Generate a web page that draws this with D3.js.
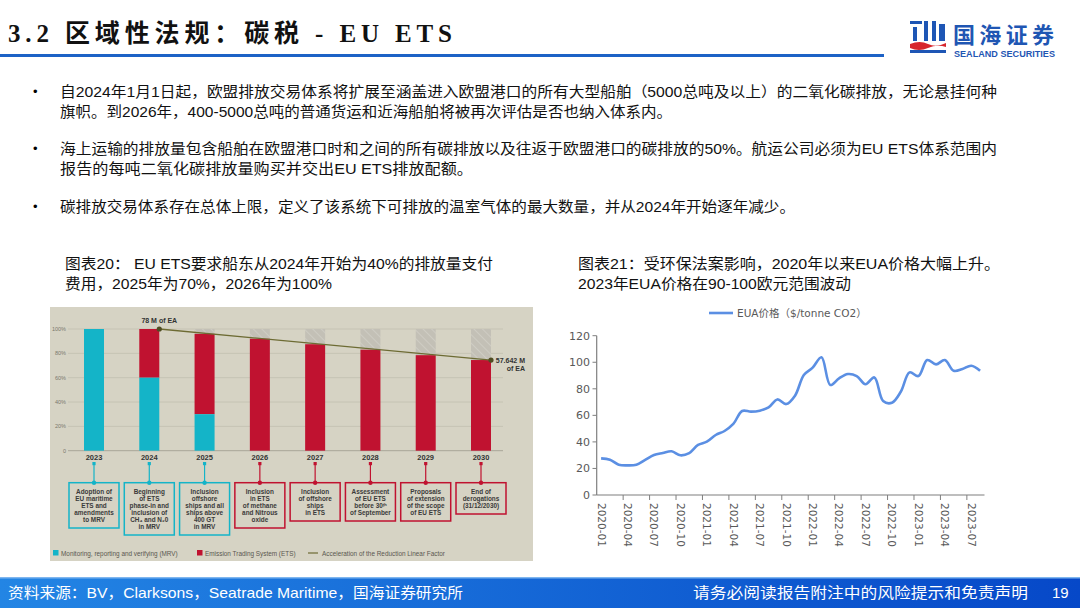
<!DOCTYPE html>
<html>
<head>
<meta charset="utf-8">
<script src="https://cdn.jsdelivr.net/npm/d3@7"></script>
<style>
  body { margin: 0; background: #fff; }
  svg { display: block; }
</style>
</head>
<body>
<svg id="slide" width="1080" height="608"></svg>
<script>
// ---- data ----
const bullets = [
  ["自2024年1月1日起，欧盟排放交易体系将扩展至涵盖进入欧盟港口的所有大型船舶（5000总吨及以上）的二氧化碳排放，无论悬挂何种",
   "旗帜。到2026年，400-5000总吨的普通货运和近海船舶将被再次评估是否也纳入体系内。"],
  ["海上运输的排放量包含船舶在欧盟港口时和之间的所有碳排放以及往返于欧盟港口的碳排放的50%。航运公司必须为EU ETS体系范围内",
   "报告的每吨二氧化碳排放量购买并交出EU ETS排放配额。"],
  ["碳排放交易体系存在总体上限，定义了该系统下可排放的温室气体的最大数量，并从2024年开始逐年减少。"]
]
const leftTitle = ["图表20： EU ETS要求船东从2024年开始为40%的排放量支付", "费用，2025年为70%，2026年为100%"]
const rightTitle = ["图表21：受环保法案影响，2020年以来EUA价格大幅上升。", "2023年EUA价格在90-100欧元范围波动"]

const years = [2023, 2024, 2025, 2026, 2027, 2028, 2029, 2030]
const mrvShare = [100, 60, 30, 0, 0, 0, 0, 0]
const etsShare = [0, 40, 66, 92, 87.5, 83, 78.5, 74.5]
const pctTicks = [0, 20, 40, 60, 80, 100]
const capLine = [[2024, 100, "78 M of EA"], [2030, 74.5, "57.642 M|of EA"]]
const boxKind = ["mrv", "mrv", "mrv", "ets", "ets", "ets", "ets", "ets"]
const boxText = [
  ["Adoption of", "EU maritime", "ETS and", "amendments", "to MRV"],
  ["Beginning", "of ETS", "phase-in and", "inclusion of", "CH₄ and N₂0", "in MRV"],
  ["Inclusion", "offshore", "ships and all", "ships above", "400 GT", "in MRV"],
  ["Inclusion", "in ETS", "of methane", "and Nitrous", "oxide"],
  ["Inclusion", "of offshore", "ships", "in ETS"],
  ["Assessment", "of EU ETS", "before 30ᵗʰ", "of September"],
  ["Proposals", "of extension", "of the scope", "of EU ETS"],
  ["End of", "derogations", "(31/12/2030)"]
]
const leftLegend = ["Monitoring, reporting and verifying (MRV)", "Emission Trading System (ETS)", "Acceleration of the Reduction Linear Factor"]

const months = d3.range(44).map(i => {
  const y = 2020 + Math.floor(i / 12), m = i % 12 + 1
  return y + "-" + (m < 10 ? "0" + m : m)
})
const eua = [27.6, 26.6, 22.8, 22.3, 22.8, 26.4, 30.1, 31.6, 32.9, 29.9, 31.6, 37.7,
             40.2, 45.2, 48.2, 53.5, 63.3, 62.8, 63.5, 66, 72, 68.5, 74.8, 90.4,
             95.9, 103.7, 82.9, 87.9, 91.1, 89.6, 83.4, 88.6, 70.8, 69.5, 77.8, 92.4,
             89.6, 101.7, 98.4, 101.7, 93.6, 94.9, 97.4, 93.6]
const euaTicks = [0, 20, 40, 60, 80, 100, 120]
const euaLegend = "EUA价格（$/tonne CO2）"

const footLeft = "资料来源：BV，Clarksons，Seatrade Maritime，国海证券研究所"
const footRight = "请务必阅读报告附注中的风险提示和免责声明"
const pageNo = "19"

// ---- page ----
const cjk = "'Liberation Sans', 'Noto Sans CJK SC', sans-serif"
const svg = d3.select('#slide')
const defs = svg.append('defs')

// title
svg.append('text')
  .attr('x', 8).attr('y', 42)
  .attr('textLength', 444).attr('lengthAdjust', 'spacing')
  .style('font-family', "'Liberation Serif', 'Noto Sans CJK SC', serif")
  .style('font-weight', 'bold').style('font-size', '25px').style('fill', '#111')
  .text("3.2 区域性法规：碳税 - EU ETS")
svg.append('rect').attr('x', 0).attr('y', 54).attr('width', 884).attr('height', 3).style('fill', '#1d62c6')

// logo
const logo = svg.append('g')
logo.append('rect').attr('x', 910).attr('y', 21).attr('width', 12).attr('height', 3).style('fill', '#1e56b5')
logo.append('rect').attr('x', 913).attr('y', 27).attr('width', 4).attr('height', 14).style('fill', '#1e56b5')
logo.append('rect').attr('x', 924).attr('y', 21).attr('width', 4).attr('height', 20).style('fill', '#1e56b5')
logo.append('rect').attr('x', 932).attr('y', 21).attr('width', 4).attr('height', 20).style('fill', '#1e56b5')
logo.append('rect').attr('x', 939).attr('y', 24).attr('width', 6).attr('height', 17).style('fill', '#1e56b5')
logo.append('path').attr('d', 'M910,44 Q920,40 928,44 T946,43 L946,47 Q937,44 928,48 T910,48 Z').style('fill', '#d7262d')
logo.append('rect').attr('x', 910).attr('y', 50).attr('width', 36).attr('height', 3).style('fill', '#1e56b5')
logo.append('text').attr('x', 953).attr('y', 43)
  .attr('textLength', 101)
  .style('font-family', "'Noto Sans CJK SC', sans-serif").style('font-weight', 'bold')
  .style('font-size', '22px').style('fill', '#1f56b3').text("国海证券")
logo.append('text').attr('x', 954).attr('y', 57)
  .attr('textLength', 101).attr('lengthAdjust', 'spacingAndGlyphs')
  .style('font-family', "'Liberation Sans', sans-serif").style('font-weight', 'bold')
  .style('font-size', '9px').style('fill', '#1f56b3').text("SEALAND SECURITIES")

// bullets
const bulletY = [97, 154, 212]
const lineW = [[937, 612], [937, 413], [735]]
bullets.forEach((lines, b) => {
  svg.append('text').attr('x', 33).attr('y', bulletY[b] - 1)
    .style('font-size', '13px').style('font-family', cjk).text("•")
  lines.forEach((t, k) => {
    svg.append('text')
      .attr('x', 60).attr('y', bulletY[b] + k * 20)
      .attr('textLength', lineW[b][k]).attr('lengthAdjust', 'spacingAndGlyphs')
      .style('font-family', cjk).style('font-size', '14.5px').style('fill', '#111')
      .text(t)
  })
})

// chart titles
const titleW = [[428, 267], [422, 273]]
;[leftTitle, rightTitle].forEach((lines, c) => {
  lines.forEach((t, k) => {
    svg.append('text')
      .attr('x', c === 0 ? 65 : 578).attr('y', 269 + k * 19.5)
      .attr('textLength', titleW[c][k]).attr('lengthAdjust', 'spacingAndGlyphs')
      .style('font-family', cjk).style('font-size', '15px').style('fill', '#111')
      .text(t)
  })
})

// ---- left chart: ETS phase-in ----
const bg = '#d6d3c4', cyan = '#14b4c8', red = '#c01230', olive = '#6d6b33'
const L = svg.append('g').style('font-family', "'Liberation Sans', Arial, sans-serif")
L.append('rect').attr('x', 50).attr('y', 307).attr('width', 483).attr('height', 254).style('fill', bg)

const hatch = defs.append('pattern').attr('id', 'hatch')
  .attr('width', 6).attr('height', 6).attr('patternUnits', 'userSpaceOnUse')
  .attr('patternTransform', 'rotate(-45)')
hatch.append('rect').attr('width', 6).attr('height', 6).style('fill', '#c3c0b6')
hatch.append('line').attr('x1', 0).attr('y1', 0).attr('x2', 0).attr('y2', 6)
  .style('stroke', '#d2d0c8').style('stroke-width', 1.5)

const xb = d3.scalePoint().domain(years).range([94, 481])
const yp = d3.scaleLinear().domain([0, 100]).range([450.7, 329])
const barW = 20

L.selectAll('.grid').data(pctTicks).enter().append('line')
  .attr('x1', 68).attr('x2', 503)
  .attr('y1', d => yp(d)).attr('y2', d => yp(d))
  .style('stroke', d => d === 0 ? '#a9a698' : '#c6c3b4').style('stroke-width', 1)
L.selectAll('.plab').data(pctTicks).enter().append('text')
  .attr('x', 66).attr('y', d => yp(d) + 2)
  .attr('text-anchor', 'end')
  .style('font-size', '5.5px').style('fill', '#7a786c')
  .text(d => d === 0 ? "0" : d + "%")

// remaining cap (hatched), ETS, MRV
L.selectAll('.cap').data(years.filter((y, i) => i >= 2)).enter().append('rect')
  .attr('x', d => xb(d) - barW / 2).attr('width', barW)
  .attr('y', yp(100))
  .attr('height', d => yp(mrvShare[years.indexOf(d)] + etsShare[years.indexOf(d)]) - yp(100))
  .style('fill', 'url(#hatch)')
L.selectAll('.ets').data(years).enter().append('rect')
  .attr('x', d => xb(d) - barW / 2).attr('width', barW)
  .attr('y', (d, i) => yp(mrvShare[i] + etsShare[i]))
  .attr('height', (d, i) => yp(mrvShare[i]) - yp(mrvShare[i] + etsShare[i]))
  .style('fill', red)
L.selectAll('.mrv').data(years).enter().append('rect')
  .attr('x', d => xb(d) - barW / 2).attr('width', barW)
  .attr('y', (d, i) => yp(mrvShare[i]))
  .attr('height', (d, i) => yp(0) - yp(mrvShare[i]))
  .style('fill', cyan)

// reduction line
const capXY = capLine.map(d => [xb(d[0]) + barW / 2, yp(d[1])])
L.append('line')
  .attr('x1', capXY[0][0]).attr('y1', capXY[0][1])
  .attr('x2', capXY[1][0]).attr('y2', capXY[1][1])
  .style('stroke', olive).style('stroke-width', 1.3)
L.selectAll('.capdot').data(capXY).enter().append('circle')
  .attr('cx', d => d[0]).attr('cy', d => d[1]).attr('r', 2.6)
  .style('fill', '#4f4d22')
L.append('text').attr('x', capXY[0][0]).attr('y', 323).attr('text-anchor', 'middle')
  .style('font-size', '7px').style('font-weight', 'bold').style('fill', '#333')
  .text(capLine[0][2])
capLine[1][2].split('|').forEach((t, k) => {
  L.append('text').attr('x', 525).attr('y', capXY[1][1] + 2.5 + k * 8.5).attr('text-anchor', 'end')
    .style('font-size', '7px').style('font-weight', 'bold').style('fill', '#333')
    .text(t)
})

// year labels, stems and boxes
L.selectAll('.yr').data(years).enter().append('text')
  .attr('x', d => xb(d)).attr('y', 460).attr('text-anchor', 'middle')
  .style('font-size', '7.5px').style('font-weight', 'bold').style('fill', '#333')
  .text(d => d)
const boxTop = 482.7, boxW = 50
years.forEach((yr, i) => {
  const c = boxKind[i] === 'mrv' ? cyan : red
  const cx = xb(yr)
  const n = boxText[i].length
  L.append('rect').attr('x', cx - 1.6).attr('y', 462).attr('width', 3.2).attr('height', 3.2).style('fill', c)
  L.append('line').attr('x1', cx).attr('x2', cx).attr('y1', 464).attr('y2', boxTop)
    .style('stroke', c).style('stroke-width', 1.2)
  L.append('rect').attr('x', cx - boxW / 2).attr('y', boxTop).attr('width', boxW)
    .attr('height', 10.3 + 7 * n)
    .style('fill', 'none').style('stroke', c).style('stroke-width', 1.5)
  L.append('circle').attr('cx', cx).attr('cy', boxTop).attr('r', 2.2).style('fill', c)
  L.selectAll('.bt' + i).data(boxText[i]).enter().append('text')
    .attr('x', cx).attr('y', (d, k) => 494 + 7 * k).attr('text-anchor', 'middle')
    .style('font-size', '6.4px').style('font-weight', 'bold').style('fill', '#3a3a3a')
    .text(d => d)
})

// legend
const legX = [53, 197, 308]
leftLegend.forEach((t, k) => {
  if (k < 2) {
    L.append('rect').attr('x', legX[k]).attr('y', 550).attr('width', 5.5).attr('height', 5.5)
      .style('fill', k === 0 ? cyan : red)
  } else {
    L.append('line').attr('x1', legX[k]).attr('x2', legX[k] + 10).attr('y1', 553).attr('y2', 553)
      .style('stroke', olive).style('stroke-width', 1.2)
  }
  L.append('text').attr('x', legX[k] + (k < 2 ? 8 : 14)).attr('y', 555.5)
    .style('font-size', '6.4px').style('fill', '#5a5850').text(t)
})

// ---- right chart: EUA price ----
const R = svg.append('g').style('font-family', "'DejaVu Sans', 'Noto Sans CJK SC', sans-serif")
const xm = d3.scaleBand().domain(months).range([596.7, 984.5])
const ye = d3.scaleLinear().domain([0, 120]).range([495, 335.7])
const axisCol = '#7f7f7f', labCol = '#595959'

R.append('line').attr('x1', 596.7).attr('x2', 596.7).attr('y1', ye(120)).attr('y2', ye(0))
  .style('stroke', axisCol).style('stroke-width', 1.2)
R.selectAll('.yt').data(euaTicks).enter().append('line')
  .attr('x1', 592.5).attr('x2', 596.7).attr('y1', d => ye(d)).attr('y2', d => ye(d))
  .style('stroke', axisCol).style('stroke-width', 1)
R.selectAll('.yl').data(euaTicks).enter().append('text')
  .attr('x', 590).attr('y', d => ye(d) + 4).attr('text-anchor', 'end')
  .style('font-size', '11px').style('fill', labCol).text(d => d)

R.append('line').attr('x1', 596.7).attr('x2', 984.5).attr('y1', ye(0)).attr('y2', ye(0))
  .style('stroke', axisCol).style('stroke-width', 1.2)
const every3 = months.filter((m, i) => i % 3 === 0)
R.selectAll('.xt').data(every3.slice(1)).enter().append('line')
  .attr('x1', d => xm(d)).attr('x2', d => xm(d)).attr('y1', ye(0)).attr('y2', ye(0) + 5)
  .style('stroke', axisCol).style('stroke-width', 1)
R.selectAll('.xl').data(every3).enter().append('text')
  .attr('transform', d => `translate(${xm(d) + xm.bandwidth() / 2 - 3.6},503) rotate(90)`)
  .style('font-size', '10.5px').style('fill', labCol).text(d => d)

const line = d3.line()
  .x((d, i) => xm(months[i]) + xm.bandwidth() / 2)
  .y(d => ye(d))
  .curve(d3.curveCatmullRom.alpha(0.5))
R.append('path').datum(eua).attr('d', line)
  .style('fill', 'none').style('stroke', '#5b8fe3').style('stroke-width', 2.6)
  .style('stroke-linejoin', 'round')

R.append('line').attr('x1', 709).attr('x2', 733).attr('y1', 313).attr('y2', 313)
  .style('stroke', '#5b8fe3').style('stroke-width', 2.6)
R.append('text').attr('x', 737).attr('y', 317)
  .style('font-size', '10.5px').style('fill', labCol).text(euaLegend)

// ---- footer ----
const grad = defs.append('linearGradient').attr('id', 'foot')
grad.append('stop').attr('offset', '0%').attr('stop-color', '#2385e4')
grad.append('stop').attr('offset', '100%').attr('stop-color', '#0648c8')
svg.append('rect').attr('x', 0).attr('y', 578).attr('width', 1080).attr('height', 30).style('fill', 'url(#foot)')
svg.append('rect').attr('x', 0).attr('y', 577).attr('width', 1080).attr('height', 1.5).style('fill', '#7fb6ef')
svg.append('text').attr('x', 8).attr('y', 598)
  .attr('textLength', 455).attr('lengthAdjust', 'spacingAndGlyphs')
  .style('font-family', cjk).style('font-size', '15px').style('fill', '#fff').text(footLeft)
svg.append('text').attr('x', 693).attr('y', 598)
  .attr('textLength', 335).attr('lengthAdjust', 'spacingAndGlyphs')
  .style('font-family', cjk).style('font-size', '15px').style('fill', '#fff').text(footRight)
svg.append('text').attr('x', 1052).attr('y', 598)
  .style('font-family', cjk).style('font-size', '15px').style('fill', '#fff').text(pageNo)
</script>
</body>
</html>
